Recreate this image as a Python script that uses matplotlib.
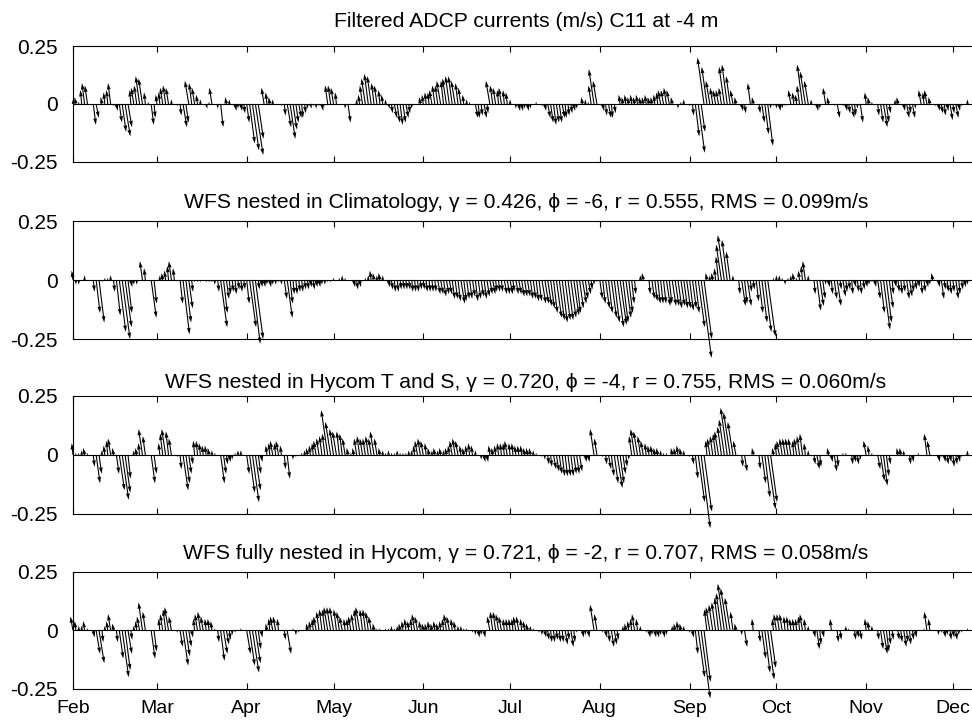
import numpy as np
import matplotlib
matplotlib.use("Agg")
import matplotlib.pyplot as plt

# daily sticks from 1 Feb 2004, v = along-shelf, u = cross-shelf (cm/s)
adcp_v = [2, 3, 1, 6, 9, 8, 0, -9, -6, 0, 3, 5, 6, 9, -1, -3, -8, -12, -14, -10, 6, 7, 8, 12, 11, 5, 1, -9, -6,
          4, 5, 7, 8, 7, 2, 0, -1, -5, -10, -8, 10, 9, 7, 4, 2, 0, -2, 1, 7, 0, -2, -10, 0, 3, 2, 0, -3, -2, -3, -4,
          -8, -17, -20, -22, -15, 0, 7, 5, 3, 2, 0, 0, -1, -5, -10, -15, -11, -8, -6, -6, -4, -2, -2, -1, -2, -1, -3, -1, 8, 8,
          7, 5, 0, 0, -2, -8, 0, 0, 2, 4, 8, 11, 13, 12, 9, 8, 6, 4, 2, -2, -4, -6, -8, -9, -8, -6, -4, -2, 0, 0, 3,
          4, 5, 5, 6, 8, 8, 10, 10, 11, 12, 12, 10, 9, 7, 4, 2, 1, 0, -6, -6, -5, -6, -4, 10, 8, 7, 6, 7, 6, 5,
          2, 0, -2, -3, -3, -2, -3, -2, 0, 1, 0, -1, -3, -6, -8, -9, -8, -8, -6, -6, -5, -4, -3, -2, 0, 3, 2, 1, 8, 15, 10,
          0, -3, -5, -6, -6, -4, 0, 4, 3, 4, 3, 4, 3, 4, 3, 3, 4, 3, 3, 4, 5, 6, 6, 7, 6, 3, 0, -2, 1, 2, 0,
          -1, -5, -14, -21, -12, 20, 16, 10, 7, 6, 6, 7, 16, 17, 12, 6, 3, 0, -3, -4, 0, 9, 3, 0, -4, -8, -13, -18, -2, -1,
          -2, -3, -2, -1, 0, 6, 5, 4, 8, 17, 14, 10, 2, 0, -3, -2, 0, 7, 3, 0, -1, -6, 0, -1, -3, -4, -6, -5, -2, -8, 0,
          5, 3, 1, 0, -5, -8, -10, -8, -4, 0, 2, 3, 0, -3, -6, -4, -6, -2, 0, 6, 5, 6, 3, 0, -1, -3, -4, -5, -3, -7,
          -4, -6, -3, -1, 0, 2]
adcp_u = [0, -1, 0, -1, -2, -2, 0, 2, 2, 0, -1, -1, -1, -2, 0, 1, 2, 3, 4, 3, -1, -2, -2, -3, -3, -1, 0, 2, 1,
          -1, -1, -2, -2, -2, 0, 0, 0, 1, 3, 2, -3, -2, -2, -1, 0, 0, 1, 0, -2, 0, 0, 2, 0, -1, 0, 0, 1, 0, 1, 1,
          2, 4, 5, 6, 4, 0, -2, -1, -1, 0, 0, 0, 0, 1, 3, 4, 3, 2, 2, 1, 1, 0, 1, 0, 0, 0, 1, 0, -2, -2,
          -2, -1, 0, 0, 0, 2, 0, 0, 0, -1, -2, -3, -3, -3, -2, -2, -1, -1, 0, 1, 1, 2, 2, 2, 2, 2, 1, 0, 0, 0, -1,
          -1, -1, -1, -2, -2, -2, -3, -2, -3, -3, -3, -3, -2, -2, -1, 0, 0, 0, 2, 1, 1, 2, 1, -3, -2, -2, -1, -2, -1, -1,
          0, 0, 0, 1, 1, 0, 1, 0, 0, 0, 0, 0, 1, 2, 2, 2, 2, 2, 2, 1, 1, 1, 1, 0, 0, -1, 0, 0, -2, -4, -3,
          0, 1, 1, 2, 1, 1, 0, -1, -1, -1, -1, -1, -1, -1, -1, -1, -1, -1, -1, -1, -1, -2, -2, -2, -2, -1, 0, 0, 0, 0, 0,
          0, 1, 3, 5, 3, -5, -4, -3, -2, -2, -2, -2, -4, -4, -3, -2, -1, 0, 1, 1, 0, -2, -1, 0, 1, 2, 3, 4, 0, 0,
          0, 1, 0, 0, 0, -2, -1, -1, -2, -4, -4, -3, 0, 0, 1, 0, 0, -2, -1, 0, 0, 2, 0, 0, 1, 1, 2, 1, 0, 2, 0,
          -1, -1, 0, 0, 1, 2, 3, 2, 1, 0, 0, -1, 0, 1, 2, 1, 2, 0, 0, -2, -1, -2, -1, 0, 0, 1, 1, 1, 1, 2,
          1, 2, 1, 0, 0, 0]

clim_v = [4, -2, -2, 0, 2, 0, 0, -5, -14, -18, -1, 1, 1, 2, -5, -15, -22, -25, -20, -14, -3, -2, -2, 0, 8, 5, 0, -16, -10,
          0, 2, 3, 4, 6, 8, 5, 0, -10, -23, -18, -12, -5, -1, -1, -1, 0, -1, -1, -1, -2, -5, -20, -14, -8, -6, -5, -6, -4, -5, -4,
          -10, -20, -27, -25, -4, -3, -3, -2, -3, -2, -2, -1, -2, -8, -16, -10, -6, -6, -5, -5, -4, -4, -3, -4, -3, -3, -2, -2, -1, -1,
          1, 0, 1, 2, 1, 0, 0, -3, -4, -3, 0, 1, 2, 4, 3, 2, 3, 2, 0, -3, -4, -5, -5, -4, -4, -4, -4, -5, -5, -5, -4,
          -4, -5, -5, -5, -5, -6, -6, -7, -6, -6, -8, -8, -9, -10, -9, -8, -8, -7, -9, -8, -7, -8, -7, -6, -6, -5, -5, -5, -6, -6,
          -6, -5, -6, -6, -7, -7, -7, -8, -8, -9, -9, -10, -10, -11, -12, -14, -16, -17, -18, -17, -17, -16, -15, -14, -12, -10, -8, -6, -4, -2, -1,
          -8, -10, -12, -14, -16, -18, -20, -19, -18, -16, -14, -10, -6, 0, 2, 3, 0, -6, -8, -9, -10, -10, -10, -11, -10, -11, -11, -12, -11, -12, -12,
          -13, -12, -14, -20, -33, -25, 3, 2, 3, 5, 10, 15, 19, 17, 12, 2, 0, -6, -11, -10, -11, -5, -4, -9, -14, -18, -22, -24, 0, 1,
          2, 2, 1, -2, 1, 2, 3, 1, 4, 6, 8, 2, 0, -6, -13, -11, -8, -2, -3, -6, -8, -11, -4, -7, -5, -4, -6, -3, -5, -6, -4,
          -3, -2, -1, -3, -8, -14, -21, -18, -12, -6, -3, -5, -6, -5, -8, -7, -5, -4, -3, -6, -5, -3, -2, 3, 0, -3, -8, -4, -5, -6,
          -5, -8, -6, -4, -3, -2]
clim_u = [-1, 0, 0, 0, 0, 0, 0, 1, 3, 4, 0, 0, 0, 0, 1, 3, 5, 6, 5, 3, 1, 0, 0, 0, -2, -1, 0, 4, 2,
          0, 0, -1, -1, -1, -2, -1, 0, 2, 5, 4, 3, 1, 0, 0, 0, 0, 0, 0, 0, 0, 1, 5, 3, 2, 1, 1, 1, 1, 1, 1,
          2, 5, 6, 6, 1, 1, 1, 0, 1, 0, 0, 0, 0, 2, 4, 2, 1, 1, 1, 1, 1, 1, 1, 1, 1, 1, 0, 0, 0, 0,
          0, 0, 0, 0, 0, 0, 0, 1, 1, 1, 0, 0, 0, -1, -1, 0, -1, 0, 0, 1, 1, 1, 1, 1, 1, 1, 1, 1, 1, 1, 1,
          1, 1, 1, 1, 1, 2, 2, 2, 2, 2, 2, 2, 2, 3, 2, 2, 2, 2, 2, 2, 2, 2, 2, 2, 2, 1, 1, 1, 2, 2,
          2, 1, 2, 2, 2, 2, 2, 2, 2, 2, 2, 3, 3, 3, 3, 3, 4, 4, 4, 4, 4, 4, 4, 3, 3, 3, 2, 2, 1, 0, 0,
          2, 2, 3, 3, 4, 4, 5, 5, 4, 4, 3, 2, 1, 0, 0, -1, 0, 1, 2, 2, 2, 2, 2, 3, 2, 3, 3, 3, 3, 3, 3,
          3, 3, 3, 5, 8, 6, -1, 0, -1, -1, -2, -4, -5, -4, -3, 0, 0, 1, 3, 2, 3, 1, 1, 2, 3, 4, 5, 6, 0, 0,
          0, 0, 0, 0, 0, 0, -1, 0, -1, -1, -2, 0, 0, 1, 3, 3, 2, 0, 1, 1, 2, 3, 1, 2, 1, 1, 1, 1, 1, 1, 1,
          1, 0, 0, 1, 2, 3, 5, 4, 3, 1, 1, 1, 1, 1, 2, 2, 1, 1, 1, 1, 1, 1, 0, -1, 0, 1, 2, 1, 1, 1,
          1, 2, 1, 1, 1, 0]

hts_v = [5, 1, 1, 2, 3, 1, 0, -5, -12, -8, 2, 4, 6, 7, 3, -8, -15, -19, -16, -10, 0, 2, 3, 5, 11, 8, 0, -12, -8,
         0, 5, 9, 11, 10, 7, 0, -1, -6, -15, -12, -8, -4, 6, 6, 5, 4, 4, 3, 2, 1, 0, -12, -8, -4, -3, -2, 1, 2, 2, 0,
         -8, -16, -20, -15, -8, -3, 0, 4, 5, 6, 5, 6, 4, -6, -10, 0, -2, -1, 0, 1, 2, 3, 4, 5, 6, 7, 8, 9, 19, 14,
         11, 10, 10, 9, 7, 3, 1, 3, 7, 8, 7, 7, 8, 7, 10, 7, 3, 2, 1, 2, 1, 1, 2, 1, 1, 1, 2, 2, 4, 6, 7,
         6, 5, 3, 2, 3, 2, 3, 2, 3, 4, 6, 7, 6, 4, 3, 4, 5, 4, 2, 0, -2, -3, -3, 4, 3, 4, 5, 5, 5, 6,
         5, 5, 4, 4, 4, 3, 3, 3, 2, 1, 0, -1, -2, -4, -5, -6, -7, -8, -9, -9, -9, -9, -8, -8, -7, 0, -3, -3, 0, 11, 7,
         0, -1, -4, -6, -9, -12, -14, -12, -8, -5, -2, 8, 11, 10, 8, 6, 5, 4, 4, 3, 3, 2, 1, 1, 0, 3, 3, 4, 3, 2, 0,
         -1, -4, -10, -20, -31, -24, 6, 7, 8, 9, 10, 12, 15, 20, 18, 14, 6, 0, -5, -7, 0, 0, 3, 0, -6, -12, -18, -23, -20, 3,
         5, 6, 7, 7, 7, 7, 6, 7, 8, 9, 5, 2, 0, -4, -6, -5, 0, 0, 3, -3, -7, -5, 0, 1, 1, 0, -4, -3, -4, -2, 0,
         6, 4, 1, 0, -6, -11, -13, -9, -4, 0, 0, 3, 3, 2, 0, -4, -3, 0, 1, 0, 0, 9, 6, 0, 0, -3, -1, -3, -4, -3,
         -5, -4, -3, -1, 0, 2]
hts_u = [-1, 0, 0, 0, -1, 0, 0, 1, 3, 2, 0, -1, -1, -2, -1, 2, 4, 5, 4, 2, 0, 0, -1, -1, -3, -2, 0, 3, 2,
         0, -1, -2, -3, -2, -2, 0, 0, 1, 4, 3, 2, 1, -1, -1, -1, -1, -1, -1, 0, 0, 0, 3, 2, 1, 1, 0, 0, 0, 0, 0,
         2, 4, 5, 4, 2, 1, 0, -1, -1, -2, -1, -2, -1, 1, 2, 0, 0, 0, 0, 0, 0, -1, -1, -1, -2, -2, -2, -2, -5, -4,
         -3, -3, -2, -2, -2, -1, 0, -1, -2, -2, -2, -2, -2, -2, -3, -2, -1, 0, 0, 0, 0, 0, 0, 0, 0, 0, 0, 0, -1, -2, -2,
         -2, -1, -1, 0, -1, 0, -1, 0, -1, -1, -2, -2, -2, -1, -1, -1, -1, -1, 0, 0, 0, 1, 1, -1, -1, -1, -1, -1, -1, -2,
         -1, -1, -1, -1, -1, -1, -1, -1, 0, 0, 0, 0, 0, 1, 1, 2, 2, 2, 2, 2, 2, 2, 2, 2, 2, 0, 1, 1, 0, -3, -2,
         0, 0, 1, 2, 2, 3, 4, 3, 2, 1, 0, -2, -3, -3, -2, -2, -1, -1, -1, -1, -1, 0, 0, 0, 0, -1, -1, -1, -1, 0, 0,
         0, 1, 2, 5, 7, 6, -1, -2, -2, -2, -3, -3, -4, -5, -5, -4, -2, 0, 1, 2, 0, 0, -1, 0, 1, 3, 4, 6, 5, -1,
         -1, -2, -2, -2, -2, -2, -1, -2, -2, -2, -1, 0, 0, 1, 2, 1, 0, 0, -1, 1, 2, 1, 0, 0, 0, 0, 1, 1, 1, 0, 0,
         -2, -1, 0, 0, 2, 3, 3, 2, 1, 0, 0, -1, -1, 0, 0, 1, 1, 0, 0, 0, 0, -2, -2, 0, 0, 1, 0, 1, 1, 1,
         1, 1, 1, 0, 0, 0]

hycom_v = [6, 4, 2, 2, 4, 1, 0, -3, -10, -14, -5, 2, 4, 7, 3, -5, -12, -20, -17, -10, -4, 2, 4, 6, 12, 8, 0, -12, -9,
           0, 5, 7, 9, 10, 6, 0, -1, -7, -15, -11, -7, -3, 5, 7, 8, 6, 5, 5, 4, 1, -5, -13, -10, -6, -4, -2, -1, 0, 1, 0,
           -10, -15, -18, -14, -8, -3, 0, 3, 5, 6, 6, 5, 0, -4, -10, 0, 1, -2, -1, 0, 0, 3, 4, 5, 6, 8, 9, 9, 10, 10,
           10, 9, 8, 6, 5, 5, 6, 7, 9, 10, 9, 9, 8, 6, 3, 1, 1, 0, 1, 1, 2, 1, 2, 3, 4, 5, 4, 5, 7, 6, 4,
           3, 3, 4, 3, 4, 3, 4, 5, 7, 6, 5, 4, 2, 2, 1, 1, 0, -1, -2, -3, -2, -3, 0, 6, 8, 8, 7, 6, 5, 5,
           5, 5, 6, 6, 5, 4, 3, 2, 1, 0, -1, -2, -3, -4, -5, -5, -4, -5, -5, -6, -4, -7, -5, -1, 0, -3, -2, -3, 0, 11, 7,
           0, -1, -3, -5, -7, -6, -4, 0, 2, 3, 4, 5, 7, 5, 2, 0, -1, -3, -2, -3, -3, -2, -3, -2, 0, 2, 3, 4, 3, 2, 0,
           -1, -3, -10, -20, -29, -22, 9, 10, 11, 12, 14, 16, 20, 18, 14, 8, 3, 0, -2, -7, 0, 0, 5, 0, -5, -12, -18, -21, -16, 5,
           7, 7, 7, 6, 6, 5, 5, 5, 6, 7, 5, 2, 0, -3, -8, -6, -3, 0, 0, 5, 0, -5, -4, 0, 2, 1, 0, -4, -3, -4, 0,
           5, 4, 2, 0, -4, -8, -10, -9, -6, -4, 0, -4, -5, -7, -5, -6, -4, -3, 0, 0, 1, 8, 5, 0, 0, -2, -1, -3, -2, -4,
           -3, -4, -2, -1, 0, 1]
hycom_u = [-2, -1, 0, 0, -1, 0, 0, 1, 3, 4, 1, 0, -1, -2, -1, 1, 3, 5, 4, 3, 1, 0, -1, -2, -3, -2, 0, 3, 2,
           0, -1, -2, -2, -3, -2, 0, 0, 2, 4, 3, 2, 1, -1, -2, -2, -2, -1, -1, -1, 0, 1, 3, 3, 2, 1, 0, 0, 0, 0, 0,
           3, 4, 5, 4, 2, 1, 0, -1, -1, -2, -2, -1, 0, 1, 3, 0, 0, 0, 0, 0, 0, -1, -1, -1, -2, -2, -2, -2, -3, -3,
           -3, -2, -2, -2, -1, -1, -2, -2, -2, -3, -2, -2, -2, -2, -1, 0, 0, 0, 0, 0, 0, 0, 0, -1, -1, -1, -1, -1, -2, -2, -1,
           -1, -1, -1, -1, -1, -1, -1, -1, -2, -2, -1, -1, 0, 0, 0, 0, 0, 0, 0, 1, 0, 1, 0, -2, -2, -2, -2, -2, -1, -1,
           -1, -1, -2, -2, -1, -1, -1, 0, 0, 0, 0, 0, 1, 1, 1, 1, 1, 1, 1, 2, 1, 2, 1, 0, 0, 1, 0, 1, 0, -3, -2,
           0, 0, 1, 1, 2, 2, 1, 0, 0, -1, -1, -1, -2, -1, 0, 0, 0, 1, 0, 1, 1, 0, 1, 0, 0, 0, -1, -1, -1, 0, 0,
           0, 1, 2, 5, 7, 5, -2, -3, -3, -3, -3, -4, -5, -5, -4, -2, -1, 0, 0, 2, 0, 0, -1, 0, 1, 3, 4, 5, 4, -1,
           -2, -2, -2, -1, -1, -1, -1, -1, -1, -2, -1, 0, 0, 1, 2, 1, 1, 0, 0, -1, 0, 1, 1, 0, 0, 0, 0, 1, 1, 1, 0,
           -1, -1, 0, 0, 1, 2, 3, 2, 1, 1, 0, 1, 1, 2, 1, 1, 1, 1, 0, 0, 0, -2, -1, 0, 0, 0, 0, 1, 0, 1,
           1, 1, 0, 0, 0, 0]

titles = [
    "Filtered ADCP currents (m/s) C11 at -4 m",
    "WFS nested in Climatology, \u03b3 = 0.426, \u03d5 = -6, r = 0.555, RMS = 0.099m/s",
    "WFS nested in Hycom T and S, \u03b3 = 0.720, \u03d5 = -4, r = 0.755, RMS = 0.060m/s",
    "WFS fully nested in Hycom, \u03b3 = 0.721, \u03d5 = -2, r = 0.707, RMS = 0.058m/s",
]
month_names = ["Feb", "Mar", "Apr", "May", "Jun", "Jul", "Aug", "Sep", "Oct", "Nov", "Dec"]

plt.rcParams["font.family"] = ["Liberation Sans", "DejaVu Sans"]

start = np.datetime64("2004-02-01")
months = np.arange("2004-02", "2005-01", dtype="datetime64[M]")
month_days = (months.astype("datetime64[D]") - start).astype(int)

series = [(adcp_u, adcp_v), (clim_u, clim_v), (hts_u, hts_v), (hycom_u, hycom_v)]
boxes = [(0.7775, 0.1593), (0.5343, 0.1621), (0.2940, 0.1621), (0.0536, 0.1607)]
title_pads = [13.5, 9.5, 6.0, 9.5]
u_scale = 0.45  # days of stick offset per cm/s

fig = plt.figure(figsize=(9.72, 7.28), dpi=100)
left = 73 / 972
width = (979 - 73) / 972
for i, ((u, v), (bottom, height)) in enumerate(zip(series, boxes)):
    ax = fig.add_axes([left, bottom, width, height])
    u = np.asarray(u, dtype=float)
    v = np.asarray(v, dtype=float)
    days = np.arange(len(v))
    ax.axhline(0, color="black", lw=0.8, zorder=1)
    q = ax.quiver(days, np.zeros_like(v), u * u_scale, v / 100.0,
                  angles="xy", scale_units="xy", scale=1, units="dots",
                  width=1.1, headwidth=3.5, headlength=6, headaxislength=5.5,
                  minlength=0, minshaft=1, color="black", zorder=2)
    q.set_clip_on(False)
    ax.set_xlim(0, 313)
    ax.set_ylim(-0.25, 0.25)
    ax.set_yticks([-0.25, 0, 0.25])
    ax.set_yticklabels(["-0.25", "0", "0.25"], fontsize=15)
    ax.set_xticks(month_days)
    ax.tick_params(axis="x", direction="in", top=True, length=4.5, width=0.8, pad=8)
    ax.tick_params(axis="y", direction="in", length=0, pad=11)
    if i == 3:
        ax.set_xticklabels(month_names, fontsize=14)
    else:
        ax.tick_params(axis="x", labelbottom=False)
    ax.spines["right"].set_visible(False)
    for s in ("left", "top", "bottom"):
        ax.spines[s].set_linewidth(0.8)
    ax.set_title(titles[i], fontsize=15.2, pad=title_pads[i])

fig.savefig("out.png", dpi=100)
